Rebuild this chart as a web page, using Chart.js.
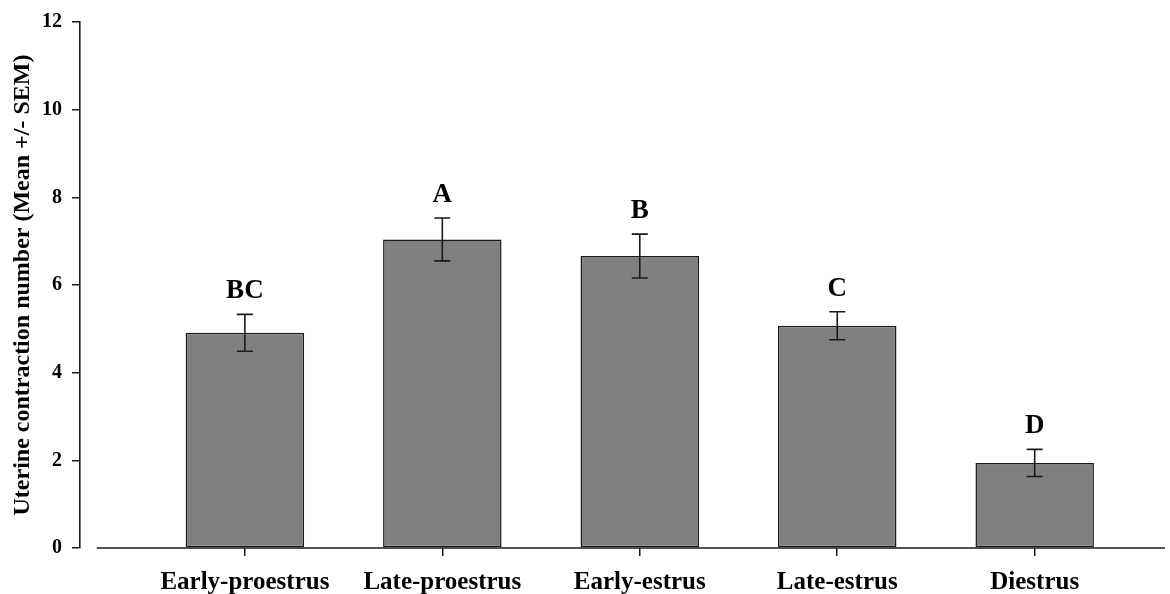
<!DOCTYPE html>
<html>
<head>
<meta charset="utf-8">
<script src="https://cdn.jsdelivr.net/npm/chart.js@4"></script>
<style>
  html, body { margin: 0; padding: 0; background: #fff; }
  #wrap { width: 1170px; height: 594px; }
</style>
</head>
<body>
<div id="wrap"><canvas id="stageChart"></canvas></div>
<script>
// Data
const stages = ["Early-proestrus", "Late-proestrus", "Early-estrus", "Late-estrus", "Diestrus"];
const meanValues = [4.91, 7.04, 6.66, 5.07, 1.94];
const semValues = [0.42, 0.49, 0.50, 0.32, 0.31];
const groupLetters = ["BC", "A", "B", "C", "D"];
const yTicks = [0, 2, 4, 6, 8, 10, 12];

const ink = "#1a1a1a";
const serif = "'Liberation Serif', 'Times New Roman', serif";

// error bars, significance letters and the x axis line (starts a bit right of the y axis)
const extrasPlugin = {
    id: "extras",
    afterDatasetsDraw(chart) {
        const { ctx, scales: { x, y }, chartArea } = chart;
        ctx.save();
        ctx.strokeStyle = ink;
        ctx.lineWidth = 1.6;
        meanValues.forEach((m, i) => {
            const cx = x.getPixelForValue(i);
            const top = y.getPixelForValue(m + semValues[i]);
            const bot = y.getPixelForValue(m - semValues[i]);
            ctx.beginPath();
            ctx.moveTo(cx, top); ctx.lineTo(cx, bot);
            ctx.moveTo(cx - 8, top); ctx.lineTo(cx + 8, top);
            ctx.moveTo(cx - 8, bot); ctx.lineTo(cx + 8, bot);
            ctx.stroke();

            ctx.fillStyle = "#000";
            ctx.font = "bold 27px " + serif;
            ctx.textAlign = "center";
            ctx.textBaseline = "alphabetic";
            ctx.fillText(groupLetters[i], cx, top - 16);
        });
        // x axis line
        ctx.lineWidth = 1.6;
        ctx.beginPath();
        ctx.moveTo(x.getPixelForValue(-0.75), chartArea.bottom);
        ctx.lineTo(chartArea.right, chartArea.bottom);
        ctx.stroke();
        ctx.restore();
    }
};

new Chart(document.getElementById("stageChart"), {
    type: "bar",
    data: {
        datasets: [{
            data: meanValues.map((v, i) => ({ x: i, y: v })),
            backgroundColor: "#808080",
            borderColor: ink,
            borderWidth: 1.5,
            borderSkipped: false,
            categoryPercentage: 1,
            barPercentage: 0.6,
        }],
    },
    options: {
        responsive: true,
        maintainAspectRatio: false,
        animation: false,
        layout: { padding: { top: 20, right: 5, left: 0, bottom: 0 } },
        plugins: { legend: { display: false }, tooltip: { enabled: false } },
        scales: {
            x: {
                type: "linear",
                offset: false,
                min: -0.835,
                max: 4.66,
                afterBuildTicks: scale => { scale.ticks = stages.map((s, i) => ({ value: i })); },
                afterFit: scale => { scale.height = 46; },
                border: { display: false },
                grid: { offset: false, drawOnChartArea: false, drawTicks: true, tickLength: 8, color: ink, lineWidth: 1.5 },
                ticks: {
                    autoSkip: false,
                    maxRotation: 0,
                    padding: 12,
                    color: "#000",
                    font: { family: serif, size: 25, weight: "bold" },
                    callback: value => stages[value],
                },
            },
            y: {
                min: 0,
                max: 12,
                afterBuildTicks: scale => { scale.ticks = yTicks.map(v => ({ value: v })); },
                afterFit: scale => { scale.width = 80; },
                border: { display: true, color: ink, width: 1.6 },
                grid: { drawOnChartArea: false, drawTicks: true, tickLength: 8, color: ink, lineWidth: 1.5 },
                ticks: {
                    padding: 10,
                    color: "#000",
                    font: { family: serif, size: 20, weight: "bold" },
                },
                title: {
                    display: true,
                    text: "Uterine contraction number (Mean +/- SEM)",
                    color: "#000",
                    padding: { top: 8, bottom: 0 },
                    font: { family: serif, size: 24, weight: "bold" },
                },
            },
        },
    },
    plugins: [extrasPlugin],
});
</script>
</body>
</html>
